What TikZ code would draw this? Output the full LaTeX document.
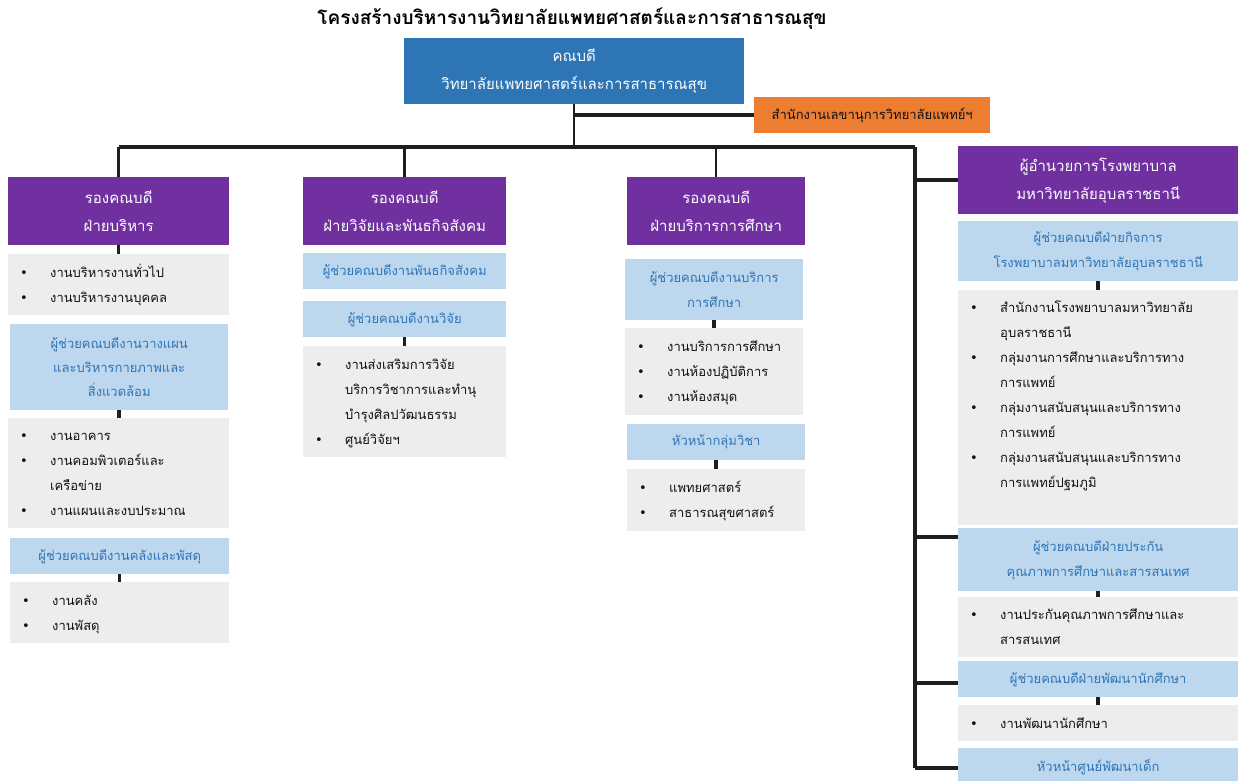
\documentclass[tikz,border=0pt]{standalone}
\usepackage{fontspec}
\newfontfamily\thai[Script=Thai]{Loma}
\newfontfamily\bulfont{DejaVu Sans}
\definecolor{topblue}{HTML}{2E75B6}
\definecolor{orangebox}{HTML}{ED7D31}
\definecolor{purplebox}{HTML}{7030A0}
\definecolor{lightbluebox}{HTML}{BDD7EE}
\definecolor{bluetext}{HTML}{2F75B5}
\definecolor{graybox}{HTML}{EDEDED}
\definecolor{linecol}{HTML}{1E1E1E}
\definecolor{darktext}{HTML}{111111}
\newcommand{\mybul}{{\bulfont\fontsize{13}{13}\selectfont •}}
\tikzset{
  ln/.style={line width=3.5pt, draw=linecol},
  lnthin/.style={line width=2.5pt, draw=linecol},
  topbox/.style={fill=topblue, text=white, font={\thai\fontsize{15}{28}\selectfont}, align=center, inner sep=0pt, anchor=north west},
  orbox/.style={fill=orangebox, text=darktext, font={\thai\fontsize{13}{16}\selectfont}, align=center, inner sep=0pt, anchor=north west},
  purbox/.style={fill=purplebox, text=white, font={\thai\fontsize{15}{28}\selectfont}, align=center, inner sep=0pt, anchor=north west},
  lbbox/.style={fill=lightbluebox, text=bluetext, font={\thai\fontsize{13}{25}\selectfont}, align=center, inner sep=0pt, anchor=north west},
  grbox/.style={fill=graybox, text=darktext, font={\thai\fontsize{13}{25}\selectfont}, align=left, inner xsep=12pt, inner ysep=0pt, anchor=north west},
}
\begin{document}
\begin{tikzpicture}[x=1pt,y=-1pt]
\useasboundingbox (0,0) rectangle (1245,780);
\clip (0,0) rectangle (1245,780);
\fill[white] (0,0) rectangle (1245,780);

% title and top
\node[font={\thai\bfseries\fontsize{19}{22}\selectfont}, text=black] (title) at (572,19) {โครงสร้างบริหารงานวิทยาลัยแพทยศาสตร์และการสาธารณสุข};
\node[topbox, minimum width=340pt, minimum height=66pt] (dean) at (404,38) {คณบดี\\วิทยาลัยแพทยศาสตร์และการสาธารณสุข};
\node[orbox, minimum width=236pt, minimum height=36pt] (off) at (754,97) {สำนักงานเลขานุการวิทยาลัยแพทย์ฯ};

% column 1
\node[purbox, minimum width=221pt, minimum height=68pt] (p1) at (8,177) {รองคณบดี\\ฝ่ายบริหาร};
\node[grbox, text width=197pt, minimum height=61pt] (g1) at (8,254) {\begin{tabular}{@{}p{30pt}@{}l@{}}
\mybul & งานบริหารงานทั่วไป\\
\mybul & งานบริหารงานบุคคล\\
\end{tabular}};
\node[lbbox, minimum width=218pt, minimum height=86pt, font={\thai\fontsize{13}{24}\selectfont}] (b1) at (10,324) {ผู้ช่วยคณบดีงานวางแผน\\และบริหารกายภาพและ\\สิ่งแวดล้อม};
\node[grbox, text width=197pt, minimum height=110pt] (g2) at (8,418) {\begin{tabular}{@{}p{30pt}@{}l@{}}
\mybul & งานอาคาร\\
\mybul & งานคอมพิวเตอร์และ\\
 & เครือข่าย\\
\mybul & งานแผนและงบประมาณ\\
\end{tabular}};
\node[lbbox, minimum width=219pt, minimum height=36pt] (b2) at (10,538) {ผู้ช่วยคณบดีงานคลังและพัสดุ};
\node[grbox, text width=195pt, minimum height=61pt] (g3) at (10,582) {\begin{tabular}{@{}p{30pt}@{}l@{}}
\mybul & งานคลัง\\
\mybul & งานพัสดุ\\
\end{tabular}};

% column 2
\node[purbox, minimum width=203pt, minimum height=68pt] (p2) at (303,177) {รองคณบดี\\ฝ่ายวิจัยและพันธกิจสังคม};
\node[lbbox, minimum width=203pt, minimum height=36pt] (b3) at (303,253) {ผู้ช่วยคณบดีงานพันธกิจสังคม};
\node[lbbox, minimum width=203pt, minimum height=36pt] (b4) at (303,301) {ผู้ช่วยคณบดีงานวิจัย};
\node[grbox, text width=179pt, minimum height=111pt] (g4) at (303,346) {\begin{tabular}{@{}p{30pt}@{}l@{}}
\mybul & งานส่งเสริมการวิจัย\\
 & บริการวิชาการและทำนุ\\
 & บำรุงศิลปวัฒนธรรม\\
\mybul & ศูนย์วิจัยฯ\\
\end{tabular}};

% column 3
\node[purbox, minimum width=178pt, minimum height=68pt] (p3) at (627,177) {รองคณบดี\\ฝ่ายบริการการศึกษา};
\node[lbbox, minimum width=178pt, minimum height=61pt] (b5) at (625,259) {ผู้ช่วยคณบดีงานบริการ\\การศึกษา};
\node[grbox, text width=154pt, minimum height=87pt] (g5) at (625,328) {\begin{tabular}{@{}p{30pt}@{}l@{}}
\mybul & งานบริการการศึกษา\\
\mybul & งานห้องปฏิบัติการ\\
\mybul & งานห้องสมุด\\
\end{tabular}};
\node[lbbox, minimum width=178pt, minimum height=36pt] (b6) at (627,424) {หัวหน้ากลุ่มวิชา};
\node[grbox, text width=154pt, minimum height=62pt] (g6) at (627,469) {\begin{tabular}{@{}p{30pt}@{}l@{}}
\mybul & แพทยศาสตร์\\
\mybul & สาธารณสุขศาสตร์\\
\end{tabular}};

% column 4
\node[purbox, minimum width=280pt, minimum height=68pt] (p4) at (958,146) {ผู้อำนวยการโรงพยาบาล\\มหาวิทยาลัยอุบลราชธานี};
\node[lbbox, minimum width=280pt, minimum height=60pt] (b7) at (958,221) {ผู้ช่วยคณบดีฝ่ายกิจการ\\โรงพยาบาลมหาวิทยาลัยอุบลราชธานี};
\node[grbox, text width=256pt, minimum height=235pt] (g7) at (958,290) {\begin{tabular}{@{}p{30pt}@{}l@{}}
\mybul & สำนักงานโรงพยาบาลมหาวิทยาลัย\\
 & อุบลราชธานี\\
\mybul & กลุ่มงานการศึกษาและบริการทาง\\
 & การแพทย์\\
\mybul & กลุ่มงานสนับสนุนและบริการทาง\\
 & การแพทย์\\
\mybul & กลุ่มงานสนับสนุนและบริการทาง\\
 & การแพทย์ปฐมภูมิ\\
 & \\
\end{tabular}};
\node[lbbox, minimum width=280pt, minimum height=63pt] (b8) at (958,528) {ผู้ช่วยคณบดีฝ่ายประกัน\\คุณภาพการศึกษาและสารสนเทศ};
\node[grbox, text width=256pt, minimum height=60pt] (g8) at (958,597) {\begin{tabular}{@{}p{30pt}@{}l@{}}
\mybul & งานประกันคุณภาพการศึกษาและ\\
 & สารสนเทศ\\
\end{tabular}};
\node[lbbox, minimum width=280pt, minimum height=36pt] (b9) at (958,661) {ผู้ช่วยคณบดีฝ่ายพัฒนานักศึกษา};
\node[grbox, text width=256pt, minimum height=36pt] (g9) at (958,705) {\begin{tabular}{@{}p{30pt}@{}l@{}}
\mybul & งานพัฒนานักศึกษา\\
\end{tabular}};
\node[lbbox, minimum width=280pt, minimum height=38pt] (b10) at (958,748) {หัวหน้าศูนย์พัฒนาเด็ก};

% connector coordinates
\coordinate (hl) at (118.5,147);
\coordinate (hr) at (915,147);
\coordinate (t4) at (958,537);
\coordinate (t5) at (958,683);
\coordinate (t6) at (958,768);

% connectors
\draw[lnthin] (dean.south) -- (dean.south |- hl);
\draw[ln] (dean.south |- off.west) -- (off.west);
\draw[ln] (p1.north |- hl) -- (hr);
\draw[ln] (hr) -- (hr |- t6);
\draw[lnthin] (p1.north |- hl) -- (p1.north);
\draw[lnthin] (p2.north |- hl) -- (p2.north);
\draw[lnthin] (p3.north |- hl) -- (p3.north);
\draw[ln] (hr |- p4.west) -- (p4.west);
\draw[ln] (hr |- t4) -- (t4);
\draw[ln] (hr |- t5) -- (t5);
\draw[ln] (hr |- t6) -- (t6);

\draw[ln] (p1.south) -- (g1.north);
\draw[ln] (b1.south) -- (b1.south |- g2.north);
\draw[ln] (b2.south) -- (b2.south |- g3.north);
\draw[ln] (b4.south) -- (g4.north);
\draw[ln] (b5.south) -- (b5.south |- g5.north);
\draw[ln] (b6.south) -- (g6.north);
\draw[ln] (b7.south) -- (g7.north);
\draw[ln] (b8.south) -- (g8.north);
\draw[ln] (b9.south) -- (g9.north);
\end{tikzpicture}
\end{document}
